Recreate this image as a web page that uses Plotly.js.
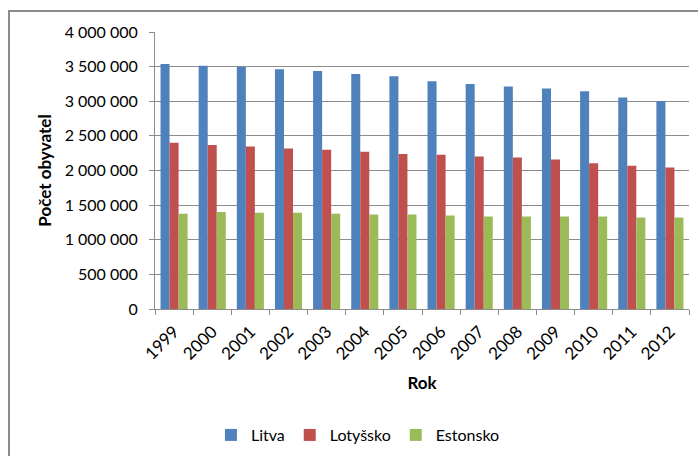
<!DOCTYPE html>
<html>
<head>
<meta charset="utf-8">
<script src="https://cdn.plot.ly/plotly-3.0.1.min.js"></script>
<style>
html,body{margin:0;padding:0;background:#fff;}
#wrap{position:relative;width:698px;height:456px;overflow:hidden;}
#chart{position:absolute;left:0;top:0;width:698px;height:456px;}
#frame{position:absolute;left:8px;top:10px;width:720px;height:480px;border-left:2px solid #8c8c8c;border-top:2px solid #8c8c8c;pointer-events:none;}
</style>
</head>
<body>
<div id="wrap"><div id="chart"></div><div id="frame"></div></div>
<script>
const years = ["1999","2000","2001","2002","2003","2004","2005","2006","2007","2008","2009","2010","2011","2012"];
const litva = [3538000,3514000,3495000,3462000,3438000,3394000,3361000,3288000,3250000,3212000,3183000,3144000,3053000,3003000];
const lotyssko = [2399000,2370000,2346000,2317000,2298000,2269000,2240000,2226000,2202000,2187000,2159000,2106000,2067000,2043000];
const estonsko = [1375000,1399000,1390000,1390000,1375000,1366000,1366000,1351000,1337000,1337000,1337000,1337000,1322000,1322000];
const seriesNames = ["Litva","Lotyšsko","Estonsko"];
const colors = ["#4F81BD","#C0504D","#9BBB59"];
const font = "Lato, 'Open Sans', sans-serif";

const data = [litva, lotyssko, estonsko].map((vals, i) => ({
  type: "bar",
  name: seriesNames[i],
  x: years,
  y: vals,
  marker: {color: colors[i], line: {width: 0}},
  hoverinfo: "x+y+name"
}));

const layout = {
  width: 698, height: 456,
  margin: {l: 155, r: 9, t: 32, b: 147, autoexpand: false},
  paper_bgcolor: "#ffffff",
  plot_bgcolor: "#ffffff",
  separators: ". ",
  barmode: "group",
  bargap: 0.29,
  bargroupgap: 0,
  font: {family: font, size: 16, color: "#000"},
  xaxis: {
    type: "category",
    tickangle: -45,
    tickson: "boundaries",
    ticks: "outside",
    ticklen: 5,
    ticklabelstandoff: 5,
    tickcolor: "#8c8c8c",
    showline: true,
    linecolor: "#8c8c8c",
    linewidth: 1,
    showgrid: false,
    tickfont: {family: font, size: 17, color: "#000"},
    title: {text: "<b>Rok</b>", font: {family: font, size: 17, color: "#000"}, standoff: 14},
    automargin: false
  },
  yaxis: {
    range: [0, 4000000],
    dtick: 500000,
    tickformat: ",.0f",
    ticks: "outside",
    ticklen: 5,
    ticklabelstandoff: 8,
    tickcolor: "#8c8c8c",
    showline: true,
    linecolor: "#8c8c8c",
    linewidth: 1,
    showgrid: true,
    gridcolor: "#8c8c8c",
    gridwidth: 1,
    zeroline: false,
    tickfont: {family: font, size: 16, color: "#000"},
    title: {text: "<b>Počet obyvatel</b>", font: {family: font, size: 17, color: "#000"}, standoff: 8},
    automargin: false
  },
  showlegend: true,
  legend: {
    orientation: "h",
    x: 0.38, xanchor: "center",
    y: -0.455, yanchor: "middle",
    font: {family: font, size: 16, color: "#000"},
    itemwidth: 30,
    traceorder: "normal"
  }
};

Plotly.newPlot("chart", data, layout, {displayModeBar: false, staticPlot: true});
</script>
</body>
</html>
